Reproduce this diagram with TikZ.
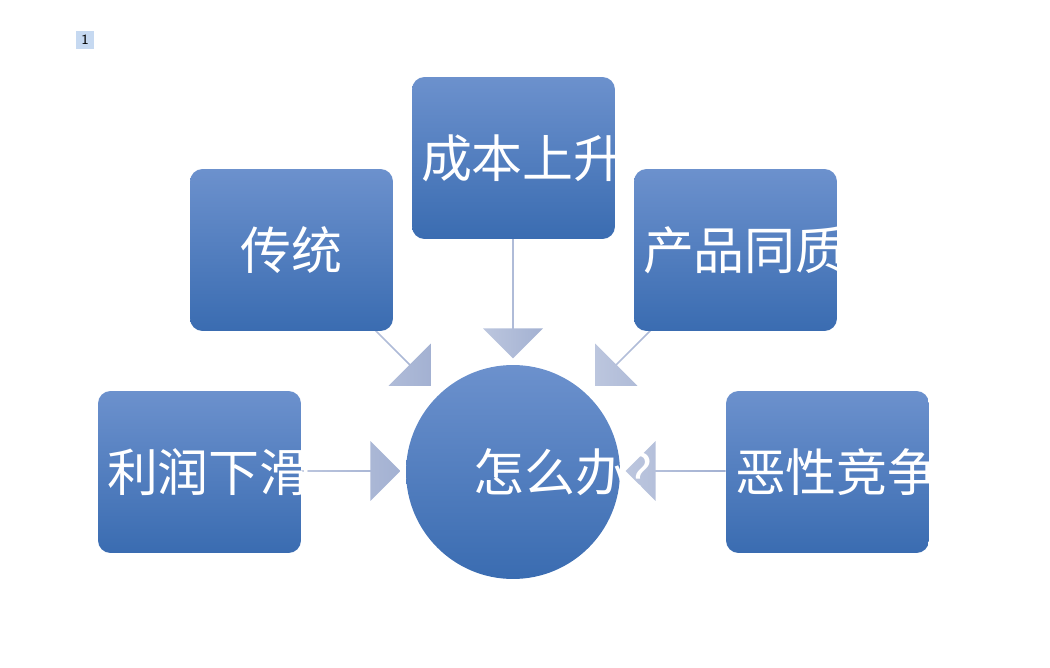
\documentclass[tikz,border=0pt]{standalone}
\usepackage{fontspec}
\newfontfamily\cjk{Noto Sans CJK SC}
\usetikzlibrary{shapes.arrows}
\definecolor{btop}{HTML}{6C91CD}
\definecolor{bbot}{HTML}{3A6CB1}
\definecolor{atop}{HTML}{BCC6DE}
\definecolor{abot}{HTML}{A3B1D2}
\tikzset{
 box/.style={rounded corners=0.25cm, top color=btop, bottom color=bbot, draw=none,
   minimum width=4.06cm, minimum height=3.24cm, text width=3.7cm, align=center,
   text=white, font=\cjk\fontsize{29}{34}\selectfont, inner sep=0pt},
 blk/.style={single arrow, draw=none, left color=atop, right color=abot,
   minimum width=1.2cm, single arrow head extend=0.25cm, inner sep=0pt,
   single arrow head indent=0cm}
}
\begin{document}
\begin{tikzpicture}[x=0.02cm,y=-0.02cm]
\useasboundingbox (0,0) rectangle (1050,668);
\node[fill={rgb,255:red,198;green,217;blue,241}, font=\sffamily\fontsize{8}{9}\selectfont, minimum width=0.36cm, minimum height=0.36cm, inner sep=0pt] (tag) at (85,40) {1};
% arrows
\node[blk, minimum height=2.0cm] (aL) at (350,471) {};
\node[blk, minimum height=2.0cm, shape border rotate=180] (aR) at (676,471) {};
\node[blk, minimum height=2.4cm, rotate=-90] (aD) at (513,298) {};
\node[blk, minimum height=2.3cm, rotate=-45] (aDL) at (390,345) {};
\node[blk, minimum height=2.3cm, rotate=-135] (aDR) at (636,345) {};
% boxes
\node[box] (b1) at (291.5,250) {传统};
\node[box] (b2) at (513.5,158) {成本上升};
\node[box] (b3) at (735.5,250) {产品同质};
\node[box] (b4) at (199.5,472) {利润下滑};
\node[box] (b5) at (827.5,472) {恶性竞争};
\node[circle, top color=btop, bottom color=bbot, minimum size=4.28cm, text width=2.6cm, align=center, text=white, font=\cjk\fontsize{29}{34}\selectfont, inner sep=0pt] (c) at (513,472) {\hspace*{0.5em}怎么办？};
\end{tikzpicture}
\end{document}
